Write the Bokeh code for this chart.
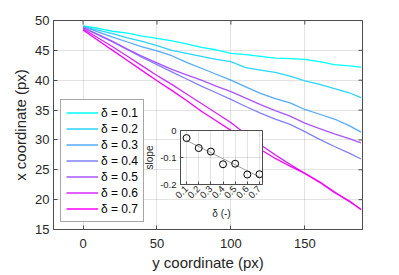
import math
from bokeh.plotting import figure
from bokeh.models import Range1d, FixedTicker, Legend, LegendItem, CustomJSTickFormatter
from bokeh.layouts import column
from bokeh.embed import file_html
from bokeh.resources import INLINE

# ---------------- data ----------------
y_coord = [0, 10, 20, 30, 40, 50, 60, 70, 80, 90, 100, 110, 120, 130, 140, 150, 160, 170, 180, 188]
x_d01 = [49.1, 48.7, 48.2, 47.9, 47.4, 47.0, 46.6, 46.1, 45.5, 45.1, 44.5, 44.3, 44.0, 43.7, 43.6, 43.5, 43.1, 42.6, 42.4, 42.2]
x_d02 = [49.0, 48.4, 47.8, 47.1, 46.5, 45.8, 45.0, 44.5, 44.0, 43.5, 43.1, 42.1, 41.7, 41.3, 40.7, 39.9, 39.3, 38.6, 37.9, 37.1]
x_d03 = [49.0, 48.1, 47.2, 46.4, 45.6, 44.9, 44.1, 43.0, 42.0, 41.0, 40.0, 38.9, 37.8, 36.9, 36.2, 35.1, 34.3, 33.5, 32.4, 31.3]
x_d04 = [48.8, 47.6, 46.4, 45.1, 43.8, 42.6, 41.4, 40.2, 39.0, 37.9, 36.8, 35.6, 34.5, 33.5, 32.6, 31.4, 30.1, 28.9, 27.8, 26.8]
x_d05 = [48.8, 47.7, 46.5, 45.2, 44.0, 42.9, 41.8, 40.9, 40.0, 39.0, 38.1, 37.0, 35.9, 34.9, 34.0, 32.8, 31.9, 31.0, 30.2, 29.5]
x_d06 = [48.6, 47.1, 45.6, 44.0, 42.4, 40.8, 39.3, 37.7, 36.1, 34.5, 32.9, 31.0, 29.2, 27.5, 25.9, 24.4, 23.0, 21.3, 19.7, 18.4]
x_d07 = [48.4, 46.7, 45.0, 43.3, 41.6, 39.9, 38.3, 36.6, 34.8, 33.2, 31.6, 30.0, 28.4, 26.9, 25.6, 24.4, 22.9, 21.2, 19.8, 18.3]
series = [x_d01, x_d02, x_d03, x_d04, x_d05, x_d06, x_d07]
labels = ["δ = 0.1", "δ = 0.2", "δ = 0.3", "δ = 0.4", "δ = 0.5", "δ = 0.6", "δ = 0.7"]
colors = ["#00FFFF", "#2BD5FF", "#55AAFF", "#8080FF", "#AA55FF", "#D52BFF", "#FF00FF"]

deltas = [0.1, 0.2, 0.3, 0.4, 0.5, 0.6, 0.7]
slopes = [-0.028, -0.065, -0.078, -0.125, -0.123, -0.163, -0.162]
fit_delta = [0.1, 0.7]
fit_slope = [-0.037, -0.172]

x_ticks = [0, 50, 100, 150]
y_ticks = [15, 20, 25, 30, 35, 40, 45, 50]
inset_x_ticks = [0.1, 0.2, 0.3, 0.4, 0.5, 0.6, 0.7]
inset_y_ticks = [-0.2, -0.1, 0]

FONT = "Liberation Sans"
TXT = "#262626"
SPINE = "#4d4d4d"

# ---------------- main plot ----------------
p = figure(frame_width=309, frame_height=209, output_backend="svg", toolbar_location=None,
           x_range=Range1d(-20, 189), y_range=Range1d(15, 50),
           min_border_left=45, min_border_right=30, min_border_top=12, min_border_bottom=46)
p.background_fill_color = "white"
p.border_fill_color = "white"
p.outline_line_color = SPINE
p.outline_line_width = 1

def style_axis(ax, ticks, size="13px", standoff=5):
    ax.ticker = FixedTicker(ticks=ticks)
    ax.axis_line_color = SPINE
    ax.major_tick_line_color = SPINE
    ax.major_tick_in = 4
    ax.major_tick_out = 0
    ax.minor_tick_in = 0
    ax.minor_tick_out = 0
    ax.major_label_text_font = FONT
    ax.major_label_text_font_size = size
    ax.major_label_text_color = TXT
    ax.major_label_standoff = standoff
    ax.axis_label_text_font = FONT
    ax.axis_label_text_font_style = "normal"
    ax.axis_label_text_color = TXT

style_axis(p.xaxis[0], x_ticks, standoff=9)
p.xaxis[0].axis_label = "y coordinate (px)"
p.xaxis[0].axis_label_text_font_size = "15px"
p.xaxis[0].axis_label_standoff = 3
style_axis(p.yaxis[0], y_ticks, standoff=4)
p.yaxis[0].axis_label = "x coordinate (px)"
p.yaxis[0].axis_label_text_font_size = "15px"
p.yaxis[0].axis_label_standoff = 3

p.xgrid.ticker = FixedTicker(ticks=x_ticks)
p.ygrid.ticker = FixedTicker(ticks=y_ticks)
p.grid.grid_line_color = "#262626"
p.grid.grid_line_alpha = 0.13

# inward tick marks on the top and right box edges (half of each dash is clipped by the frame)
p.scatter(x_ticks, [p.y_range.end] * len(x_ticks), marker="dash", angle=math.pi / 2,
          size=8, line_color=SPINE, line_width=1)
p.scatter([p.x_range.end] * len(y_ticks), y_ticks, marker="dash", angle=0,
          size=8, line_color=SPINE, line_width=1)

items = []
for ys, lab, col in zip(series, labels, colors):
    r = p.line(y_coord, ys, line_color=col, line_width=1.3)
    items.append(LegendItem(label=lab, renderers=[r]))

legend = Legend(items=items, location=(7, 7), orientation="vertical",
                label_text_font=FONT, label_text_font_size="12px", label_text_color="#000000",
                glyph_width=32, glyph_height=15, label_height=15, spacing=1,
                padding=5, margin=0, label_standoff=3,
                border_line_color=SPINE, border_line_width=1,
                background_fill_color="white", background_fill_alpha=1)
p.add_layout(legend)
p.margin = (8, 0, 0, 7)

# ---------------- inset ----------------
ins = figure(frame_width=82, frame_height=54, output_backend="svg", toolbar_location=None,
             x_range=Range1d(0.05, 0.725), y_range=Range1d(-0.2, 0),
             min_border_left=46, min_border_right=8, min_border_top=6, min_border_bottom=42)
ins.background_fill_color = "white"
ins.border_fill_alpha = 0
ins.outline_line_color = SPINE
style_axis(ins.xaxis[0], inset_x_ticks, size="9.5px", standoff=3)
ins.xaxis[0].major_tick_in = 3
ins.xaxis[0].major_label_orientation = math.pi / 4
ins.xaxis[0].axis_label = "δ (-)"
ins.xaxis[0].axis_label_text_font_size = "10px"
ins.xaxis[0].axis_label_standoff = 4
style_axis(ins.yaxis[0], inset_y_ticks, size="9.5px", standoff=4)
ins.yaxis[0].major_tick_in = 3
ins.yaxis[0].formatter = CustomJSTickFormatter(code="return Math.abs(tick) < 1e-9 ? '0' : tick.toFixed(1);")
ins.yaxis[0].axis_label = "slope"
ins.yaxis[0].axis_label_text_font_size = "10px"
ins.yaxis[0].axis_label_standoff = 2
ins.xgrid.ticker = FixedTicker(ticks=inset_x_ticks)
ins.ygrid.ticker = FixedTicker(ticks=inset_y_ticks)
ins.grid.grid_line_color = "#262626"
ins.grid.grid_line_alpha = 0.13

ins.line(fit_delta, fit_slope, line_color="#a0a0a0", line_width=1)
ins.scatter(deltas, slopes, marker="circle", size=7, fill_color="white", fill_alpha=0,
            line_color="#000000", line_width=1)

ins.margin = (-151, 0, 0, 134)

layout = column(p, ins, spacing=0)
open("out.html", "w").write(file_html(layout, INLINE))
